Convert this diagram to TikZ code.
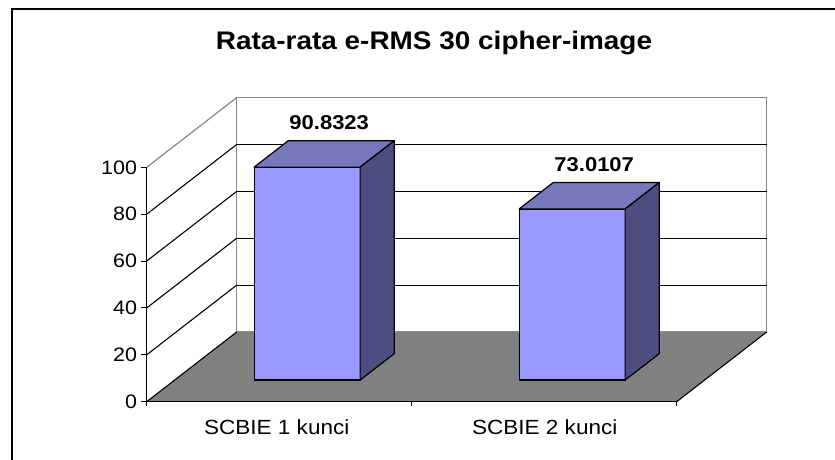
\documentclass[tikz,border=0pt]{standalone}
\definecolor{barFront}{RGB}{153,153,255}
\definecolor{barTop}{RGB}{119,119,187}
\definecolor{barSide}{RGB}{77,77,128}
\definecolor{floorGray}{RGB}{128,128,128}
\definecolor{wallGray}{RGB}{135,135,135}
\usepackage{fontspec}
\setmainfont{Liberation Sans}[FakeStretch=1.1]
\usepackage{tikz}
\usetikzlibrary{positioning,calc}

\tikzset{
    barface/.style={draw=black,line width=1.2pt,line join=round},
    gridline/.style={draw=black,line width=1.1pt},
    wallline/.style={draw=wallGray,line width=1.2pt},
    ticklabel/.style={anchor=east,inner sep=0pt,font=\fontsize{19.5}{19.5}\selectfont},
    catlabel/.style={anchor=base,inner sep=0pt,font=\fontsize{20.5}{20.5}\selectfont},
    vallabel/.style={anchor=base,inner sep=0pt,font=\fontsize{20}{20}\selectfont\bfseries}
}

\newcommand{\drawBar}[3]{%
    \filldraw[barface,fill=barFront] (#1,0,.31) rectangle (#1+106,#2,.31);
    \filldraw[barface,fill=barTop] (#1,#2,.31) -- (#1+106,#2,.31) -- (#1+106,#2,.69) -- (#1,#2,.69) -- cycle;
    \filldraw[barface,fill=barSide] (#1+106,0,.31) -- (#1+106,0,.69) -- (#1+106,#2,.69) -- (#1+106,#2,.31) -- cycle;
    \node[vallabel,yshift=24pt] (#3) at (#1+58,#2,.5) {#2};
}

\begin{document}
\begin{tikzpicture}[x=1pt,y=1pt]
    \useasboundingbox (0,0) rectangle (835,460);
    \fill[white] (0,0) rectangle (835,460);
    \draw[line width=2pt] (11.7,0) -- (11.7,451) -- (835,451);

    \node[anchor=base,inner sep=0pt,font=\fontsize{25.4}{25.4}\selectfont\bfseries] (title) at (434,410) {Rata-rata e-RMS 30 cipher-image};

    \begin{scope}[shift={(146.7pt,58.3pt)},x=1pt,y=2.344pt,z={(90pt,69.7pt)}]
        \fill[floorGray] (0,0,0) -- (530,0,0) -- (530,0,1) -- (0,0,1) -- cycle;
        \draw[wallline] (0,0,1) rectangle (530,100,1);
        \draw[wallline] (0,100,0) -- (0,100,1);
        \foreach \v in {20,40,60,80}
            \draw[gridline] (0,\v,1) -- (530,\v,1);
        \foreach \v in {0,20,...,80}
            \draw[gridline] (0,\v,0) -- (0,\v,1);
        \draw[gridline] (530,0,0) -- (530,0,1);

        \draw[gridline] (0,0,0) -- (0,100,0);
        \foreach \v in {0,20,...,100} {
            \draw[gridline] (0,\v,0) -- ++(-6pt,0);
            \node[ticklabel] (tick\v) at ($(0,\v,0)+(-9.5pt,0)$) {\v};
        }
        \draw[gridline] (0,0,0) -- (530,0,0);
        \foreach \c in {0,265,530}
            \draw[gridline] (\c,0,0) -- ++(0,-4pt);

        \drawBar{79.5}{90.8323}{valA}
        \drawBar{344.5}{73.0107}{valB}

        \node[catlabel] (catA) at ($(130,0,0)+(0,-33.3pt)$) {SCBIE 1 kunci};
        \node[catlabel] (catB) at ($(398,0,0)+(0,-33.3pt)$) {SCBIE 2 kunci};
    \end{scope}
\end{tikzpicture}
\end{document}
